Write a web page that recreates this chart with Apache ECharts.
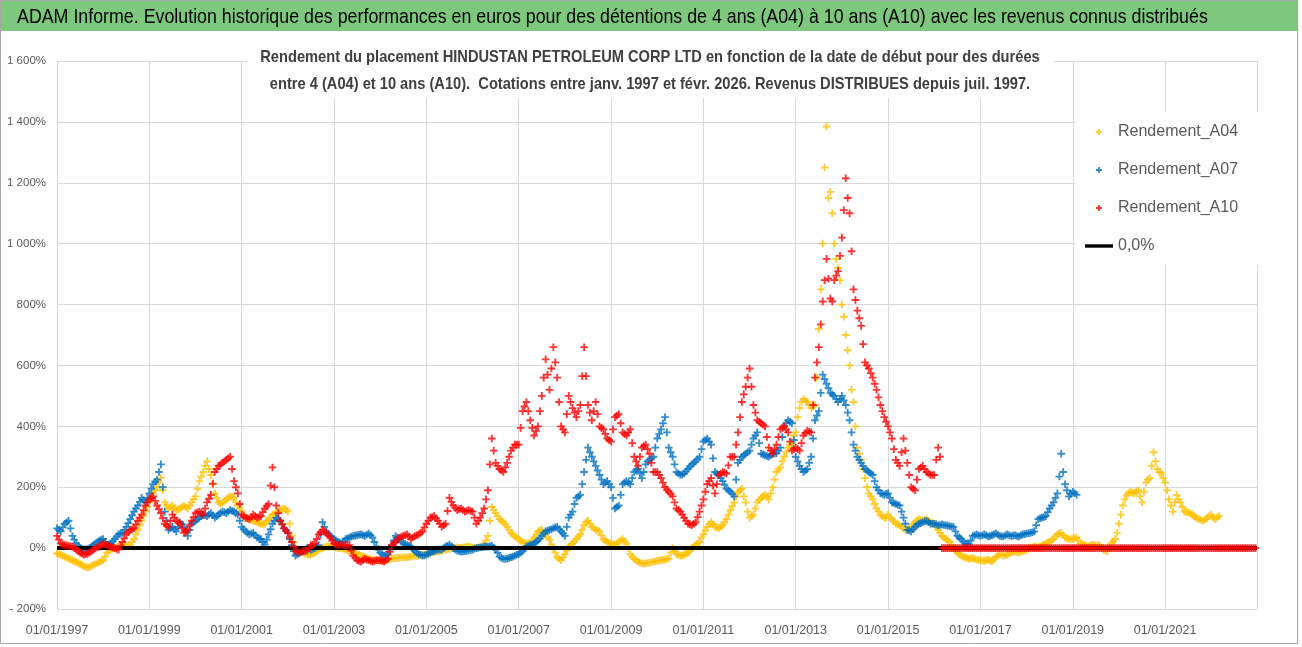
<!DOCTYPE html>
<html>
<head>
<meta charset="utf-8">
<script src="https://cdn.jsdelivr.net/npm/echarts@6/dist/echarts.min.js"></script>
<style>html,body{margin:0;padding:0;background:#fff}#c{width:1302px;height:647px}</style>
</head>
<body>
<div id="c"></div>
<script>
// ---- data: readings at the start of each month (a04, a07, a10) and at mid-month (…Mid), from January 1997 ----
const startYear = 1997;
const mainTitle = "ADAM Informe. Evolution historique des performances en euros pour des détentions de 4 ans (A04) à 10 ans (A10) avec les revenus connus distribués";
const subTitle1 = "Rendement du placement HINDUSTAN PETROLEUM CORP LTD en fonction de la date de début pour des durées";
const subTitle2 = "entre 4 (A04) et 10 ans (A10).  Cotations entre janv. 1997 et févr. 2026. Revenus DISTRIBUES depuis juil. 1997.";
const seriesNames = ["Rendement_A04", "Rendement_A07", "Rendement_A10", "0,0%"];

const a04 = [
  /*1997*/ -17,-22,-28,-34,-40,-46,-52,-60,-64,-58,-52,-46,
  /*1998*/ -40,-15,-5,0,5,8,5,10,30,60,90,120,
  /*1999*/ 150,180,200,230,150,130,140,125,130,140,130,150,
  /*2000*/ 170,220,250,285,240,180,150,150,160,170,165,140,
  /*2001*/ 120,100,95,90,85,80,80,95,110,115,125,130,
  /*2002*/ 120,40,0,-10,-15,-20,-22,-15,-5,0,5,5,
  /*2003*/ 5,0,0,-5,-10,-15,-18,-25,-30,-35,-38,-40,
  /*2004*/ -42,-40,-38,-35,-33,-32,-30,-30,-28,-25,-25,-22,
  /*2005*/ -20,-15,-12,-10,-8,-5,-3,0,2,0,3,5,
  /*2006*/ 2,0,3,10,40,135,115,95,85,70,50,38,
  /*2007*/ 30,20,15,16,35,55,60,45,27,0,-30,-40,
  /*2008*/ -20,5,15,30,45,75,90,70,60,55,30,20,
  /*2009*/ 15,10,20,30,15,-20,-35,-45,-50,-50,-48,-45,
  /*2010*/ -42,-40,-38,-35,0,-20,-25,-22,-15,0,10,20,
  /*2011*/ 45,70,85,70,65,75,95,125,150,185,195,150,
  /*2012*/ 100,110,150,165,175,160,200,250,265,300,330,345,
  /*2013*/ 380,460,490,480,460,470,720,1000,1385,1170,1000,920,
  /*2014*/ 800,700,600,480,330,290,230,180,160,130,110,100,
  /*2015*/ 110,95,80,75,65,60,70,85,95,90,95,85,
  /*2016*/ 80,60,40,30,20,0,-15,-25,-30,-35,-33,-38,
  /*2017*/ -40,-42,-38,-44,-30,-20,-25,-22,-15,-12,-14,-10,
  /*2018*/ -5,2,5,3,8,15,20,30,45,50,35,30,
  /*2019*/ 30,35,15,10,5,12,8,10,-5,-10,15,30,
  /*2020*/ 80,140,175,185,180,190,150,215,230,315,260,245,
  /*2021*/ 215,160,120,175,150,120,118,110,100,95,90,100,
  /*2022*/ 110,95,105
];
const a04Mid = [
  /*1997*/ -20,-25,-31,-37,-43,-49,-56,-62,-62,-55,-49,-43,
  /*1998*/ -28,-8,-2,3,7,6,8,20,45,75,105,135,
  /*1999*/ 165,190,215,190,140,135,130,128,135,135,140,160,
  /*2000*/ 195,235,270,260,210,165,145,155,165,168,150,130,
  /*2001*/ 110,98,92,88,82,78,88,100,112,120,128,125,
  /*2002*/ 80,20,-5,-12,-18,-21,-18,-10,-2,3,5,5,
  /*2003*/ 2,0,-3,-8,-12,-17,-22,-28,-32,-37,-39,-41,
  /*2004*/ -41,-39,-36,-34,-32,-31,-30,-29,-26,-25,-23,-21,
  /*2005*/ -18,-13,-11,-9,-6,-4,-1,1,1,2,4,3,
  /*2006*/ 1,2,6,25,90,125,105,90,78,60,45,34,
  /*2007*/ 25,17,15,25,45,58,52,35,12,-15,-35,-30,
  /*2008*/ -8,10,22,38,60,85,80,65,58,42,25,18,
  /*2009*/ 12,15,25,22,0,-28,-40,-48,-50,-49,-46,-43,
  /*2010*/ -41,-39,-36,-15,-10,-22,-24,-18,-8,5,15,35,
  /*2011*/ 58,78,78,68,70,85,110,138,170,190,170,120,
  /*2012*/ 105,130,158,170,168,180,225,258,285,315,338,370,
  /*2013*/ 430,480,485,470,465,560,850,1250,1150,1100,950,880,
  /*2014*/ 760,650,520,400,310,260,200,170,145,120,105,100,
  /*2015*/ 100,88,78,70,60,65,78,90,92,92,90,82,
  /*2016*/ 70,50,35,25,10,-8,-20,-28,-32,-34,-36,-39,
  /*2017*/ -41,-40,-41,-37,-25,-22,-23,-18,-13,-13,-12,-8,
  /*2018*/ -2,3,4,5,12,18,25,38,48,42,32,30,
  /*2019*/ 33,25,12,8,8,10,9,2,-8,0,22,50,
  /*2020*/ 110,160,180,182,185,170,185,225,270,285,250,230,
  /*2021*/ 190,140,150,160,135,119,114,105,97,92,95,105,
  /*2022*/ 100,100
];

const a07 = [
  /*1997*/ 65,55,80,90,40,15,0,-5,-3,5,15,25,
  /*1998*/ 30,10,15,30,45,50,70,95,120,140,165,150,
  /*1999*/ 180,210,225,275,120,60,70,55,85,70,40,80,
  /*2000*/ 90,100,110,105,115,100,110,120,115,125,120,110,
  /*2001*/ 70,55,45,50,35,30,12,45,80,100,90,65,
  /*2002*/ 50,10,-25,-15,-10,0,-5,0,10,85,55,40,
  /*2003*/ 30,20,15,30,35,40,42,45,40,48,35,5,
  /*2004*/ -15,-25,-20,10,40,30,15,10,5,-10,-20,-25,
  /*2005*/ -22,-15,-10,-5,-5,5,12,0,-8,-12,-10,-8,
  /*2006*/ -5,0,2,5,5,8,-5,-28,-35,-35,-30,-25,
  /*2007*/ -20,-10,5,10,15,25,40,55,60,65,70,55,
  /*2008*/ 40,100,120,165,175,250,330,300,270,240,210,220,
  /*2009*/ 200,130,140,210,220,210,250,260,230,275,290,300,
  /*2010*/ 360,390,430,330,300,250,240,245,260,275,285,300,
  /*2011*/ 350,360,340,250,240,220,195,185,170,280,300,310,
  /*2012*/ 320,360,380,310,305,300,310,312,330,400,420,410,
  /*2013*/ 300,270,250,260,300,420,450,570,540,510,500,480,
  /*2014*/ 500,470,420,340,300,280,260,250,240,200,180,175,
  /*2015*/ 180,150,145,140,100,60,55,70,80,85,90,80,
  /*2016*/ 80,75,78,75,72,70,40,30,15,12,40,45,
  /*2017*/ 40,45,38,42,48,40,38,45,40,42,38,45,
  /*2018*/ 48,50,55,95,100,105,130,150,180,310,210,170,
  /*2019*/ 185,175
];
const a07Mid = [
  /*1997*/ 60,68,85,65,28,8,-3,-4,1,10,20,28,
  /*1998*/ 20,12,22,38,48,60,82,108,130,152,158,165,
  /*1999*/ 195,218,250,200,90,65,62,70,78,55,60,85,
  /*2000*/ 95,105,108,110,108,105,115,118,120,122,115,90,
  /*2001*/ 62,50,48,42,32,20,28,62,90,95,78,58,
  /*2002*/ 30,-10,-20,-12,-5,-3,-3,5,45,70,48,35,
  /*2003*/ 25,18,22,32,38,41,44,42,44,42,20,-5,
  /*2004*/ -20,-22,-5,25,35,22,12,8,-3,-15,-22,-24,
  /*2005*/ -18,-12,-8,-5,0,8,6,-4,-10,-11,-9,-6,
  /*2006*/ -2,1,3,5,6,2,-15,-32,-36,-32,-28,-22,
  /*2007*/ -15,-2,8,12,20,32,48,58,62,68,62,48,
  /*2008*/ 70,110,145,170,210,290,315,285,255,225,215,210,
  /*2009*/ 165,135,175,215,215,230,255,245,250,285,295,330,
  /*2010*/ 375,410,380,315,275,245,242,252,268,280,292,325,
  /*2011*/ 355,350,295,245,230,208,190,178,225,290,305,315,
  /*2012*/ 340,370,345,308,302,305,311,320,365,410,415,355,
  /*2013*/ 285,260,255,280,360,435,510,555,525,505,490,490,
  /*2014*/ 485,445,380,320,290,270,255,245,220,190,178,178,
  /*2015*/ 165,148,142,120,80,58,62,75,82,88,85,80,
  /*2016*/ 78,76,76,74,71,55,35,22,14,25,42,42,
  /*2017*/ 42,42,40,45,44,39,42,42,41,40,42,46,
  /*2018*/ 49,52,75,98,102,118,140,165,235,250,190,178,
  /*2019*/ 180
];

const a10 = [
  /*1997*/ 40,15,10,8,5,-5,-15,-22,-18,-10,0,5,
  /*1998*/ 15,10,5,0,-5,20,45,60,65,90,110,140,
  /*1999*/ 160,170,140,115,80,70,110,90,80,50,60,90,
  /*2000*/ 115,120,110,150,175,250,270,280,290,300,220,180,
  /*2001*/ 110,100,95,110,100,105,130,145,265,140,90,65,
  /*2002*/ 50,20,-10,-15,-10,-8,10,15,45,60,50,35,
  /*2003*/ 15,10,12,8,10,-25,-40,-45,-35,-40,-45,-40,
  /*2004*/ -40,-45,-35,10,20,35,40,45,30,40,45,55,
  /*2005*/ 80,100,105,90,70,80,165,140,125,130,120,125,
  /*2006*/ 120,80,100,130,190,360,280,260,250,280,320,340,
  /*2007*/ 340,450,480,420,370,400,500,620,520,660,560,400,
  /*2008*/ 380,500,460,430,470,660,470,420,480,400,390,360,
  /*2009*/ 350,430,440,380,370,390,300,270,330,340,310,250,
  /*2010*/ 250,230,200,185,170,130,120,100,80,75,85,120,
  /*2011*/ 160,210,230,180,240,250,245,300,300,380,480,530,
  /*2012*/ 590,470,420,410,400,330,310,340,390,400,380,320,
  /*2013*/ 330,320,370,385,380,560,660,810,950,820,880,910,
  /*2014*/ 1020,1215,1100,850,780,730,610,590,560,520,470,430,
  /*2015*/ 400,360,290,270,360,280,200,190,260,270,250,240,
  /*2016*/ 240,330,0,0,0,0,0,0,0,0,0,0,
  /*2017*/ 0,0,0,0,0,0,0,0,0,0,0,0,
  /*2018*/ 0,0,0,0,0,0,0,0,0,0,0,0,
  /*2019*/ 0,0,0,0,0,0,0,0,0,0,0,0,
  /*2020*/ 0,0,0,0,0,0,0,0,0,0,0,0,
  /*2021*/ 0,0,0,0,0,0,0,0,0,0,0,0,
  /*2022*/ 0,0,0,0,0,0,0,0,0,0,0,0
];
const a10Mid = [
  /*1997*/ 28,12,9,6,0,-10,-18,-20,-14,-5,3,10,
  /*1998*/ 12,8,2,-3,8,32,52,62,78,100,125,150,
  /*1999*/ 165,155,128,98,75,90,100,85,65,55,75,102,
  /*2000*/ 118,115,130,162,212,260,275,285,295,260,200,145,
  /*2001*/ 105,98,102,105,102,118,138,205,200,115,78,58,
  /*2002*/ 35,5,-12,-12,-9,1,12,30,52,55,42,25,
  /*2003*/ 12,11,10,9,-8,-32,-42,-40,-38,-42,-42,-40,
  /*2004*/ -42,-40,-12,15,28,38,42,38,35,42,50,68,
  /*2005*/ 90,102,98,80,75,122,152,132,128,125,122,122,
  /*2006*/ 100,90,115,160,275,320,270,255,265,300,330,340,
  /*2007*/ 395,465,450,395,385,450,560,570,590,610,480,390,
  /*2008*/ 440,480,445,450,565,565,445,450,440,395,375,355,
  /*2009*/ 390,435,410,375,380,345,285,300,335,325,280,250,
  /*2010*/ 240,215,192,178,150,125,110,90,78,80,102,140,
  /*2011*/ 185,220,205,210,245,248,272,300,340,430,505,560,
  /*2012*/ 530,445,415,405,365,320,325,365,395,390,350,325,
  /*2013*/ 325,345,378,382,470,610,735,880,885,810,895,960,
  /*2014*/ 1110,1150,975,815,755,670,600,575,540,495,450,415,
  /*2015*/ 380,325,280,315,320,240,195,225,265,260,245,240,
  /*2016*/ 290,300,0,0,0,0,0,0,0,0,0,0,
  /*2017*/ 0,0,0,0,0,0,0,0,0,0,0,0,
  /*2018*/ 0,0,0,0,0,0,0,0,0,0,0,0,
  /*2019*/ 0,0,0,0,0,0,0,0,0,0,0,0,
  /*2020*/ 0,0,0,0,0,0,0,0,0,0,0,0,
  /*2021*/ 0,0,0,0,0,0,0,0,0,0,0,0,
  /*2022*/ 0,0,0,0,0,0,0,0,0,0,0,0
];

const zeroLineX = [1997, 2022.99];
const zeroLineY = [0, 0];

// ---- rendering ----
const FONT = "'Liberation Sans', Arial, sans-serif";
const PLUS = 'path://M2.8 0h1.8v7.4H2.8Z M0 2.8h7.4v1.8H0Z';
const LEG_PLUS = 'path://M0 0 M11 6.1h6v1.8h-6Z M13.1 4h1.8v6h-1.8Z M28 14';
const LEG_LINE = 'path://M0 0 M0 5.3h28v3.4H0Z M28 14';

function points(starts, mids, year0) {
  const p = starts.map((v, i) => [year0 + i / 12, v]);
  return p.concat(mids.map((v, i) => [year0 + (i + 0.5) / 12, v]));
}
function yFmt(v) {
  const a = Math.abs(v);
  const s = a >= 1000 ? Math.floor(a / 1000) + ' ' + String(a % 1000).padStart(3, '0') : String(a);
  return (v < 0 ? '- ' : '') + s + '%';
}

const chart = echarts.init(document.getElementById('c'));
chart.setOption({
  animation: false,
  textStyle: { fontFamily: FONT },
  graphic: [
    { type: 'rect', z: -10, shape: { x: 0, y: 0, width: 1298, height: 31 }, style: { fill: '#7dc87d' } },
    { type: 'rect', z: 100, silent: true, shape: { x: 0.5, y: 0.5, width: 1297, height: 643 }, style: { fill: 'none', stroke: '#a6a6a6', lineWidth: 1 } },
    { type: 'text', z: 20, x: 17, y: 17, scaleX: 0.848, originX: 0,
      style: { x: 0, y: 0, text: mainTitle, fontFamily: FONT, fontSize: 21, fill: '#000', align: 'left', verticalAlign: 'middle' } },
    { type: 'rect', z: 1, shape: { x: 248, y: 41, width: 806, height: 57 }, style: { fill: '#fff' } },
    { type: 'text', z: 20, x: 650, y: 57, scaleX: 0.862, originX: 0,
      style: { x: 0, y: 0, text: subTitle1, fontFamily: FONT, fontSize: 17, fontWeight: 'bold', fill: '#404040', align: 'center', verticalAlign: 'middle' } },
    { type: 'text', z: 20, x: 650, y: 84, scaleX: 0.862, originX: 0,
      style: { x: 0, y: 0, text: subTitle2, fontFamily: FONT, fontSize: 17, fontWeight: 'bold', fill: '#404040', align: 'center', verticalAlign: 'middle' } }
  ],
  legend: {
    orient: 'vertical', left: 1075, top: 112, padding: [12, 22, 11, 10],
    itemWidth: 28, itemHeight: 14, itemGap: 22, backgroundColor: '#fff', z: 10,
    textStyle: { fontFamily: FONT, fontSize: 16, lineHeight: 14, color: '#595959' },
    data: [
      { name: seriesNames[0], icon: LEG_PLUS },
      { name: seriesNames[1], icon: LEG_PLUS },
      { name: seriesNames[2], icon: LEG_PLUS },
      { name: seriesNames[3], icon: LEG_LINE }
    ]
  },
  grid: { left: 57, right: 45, top: 61, bottom: 38 },
  xAxis: {
    type: 'value', min: 1997, max: 2022.99, interval: 2,
    axisLine: { show: false }, axisTick: { show: false },
    splitLine: { show: true, lineStyle: { color: '#d9d9d9', width: 1 } },
    axisLabel: { fontFamily: FONT, fontSize: 12.5, color: '#595959', margin: 15, showMaxLabel: false,
      formatter: v => '01/01/' + v }
  },
  yAxis: {
    type: 'value', min: -200, max: 1600, interval: 200,
    axisLine: { show: false }, axisTick: { show: false },
    splitLine: { show: true, lineStyle: { color: '#d9d9d9', width: 1 } },
    axisLabel: { fontFamily: FONT, fontSize: 11.5, color: '#595959', margin: 11, formatter: yFmt }
  },
  series: [
    { name: seriesNames[0], type: 'scatter', z: 2, symbol: PLUS, symbolSize: 7.6,
      itemStyle: { color: '#FFC000' }, data: points(a04, a04Mid, startYear) },
    { name: seriesNames[1], type: 'scatter', z: 3, symbol: PLUS, symbolSize: 7.6,
      itemStyle: { color: '#0070C0' }, data: points(a07, a07Mid, startYear) },
    { name: seriesNames[3], type: 'line', z: 4, showSymbol: false, symbol: 'none',
      itemStyle: { color: '#000' }, lineStyle: { color: '#000', width: 4 },
      data: zeroLineX.map((x, i) => [x, zeroLineY[i]]) },
    { name: seriesNames[2], type: 'scatter', z: 5, symbol: PLUS, symbolSize: 7.6,
      itemStyle: { color: '#FF0000' }, data: points(a10, a10Mid, startYear) }
  ]
});
</script>
</body>
</html>
